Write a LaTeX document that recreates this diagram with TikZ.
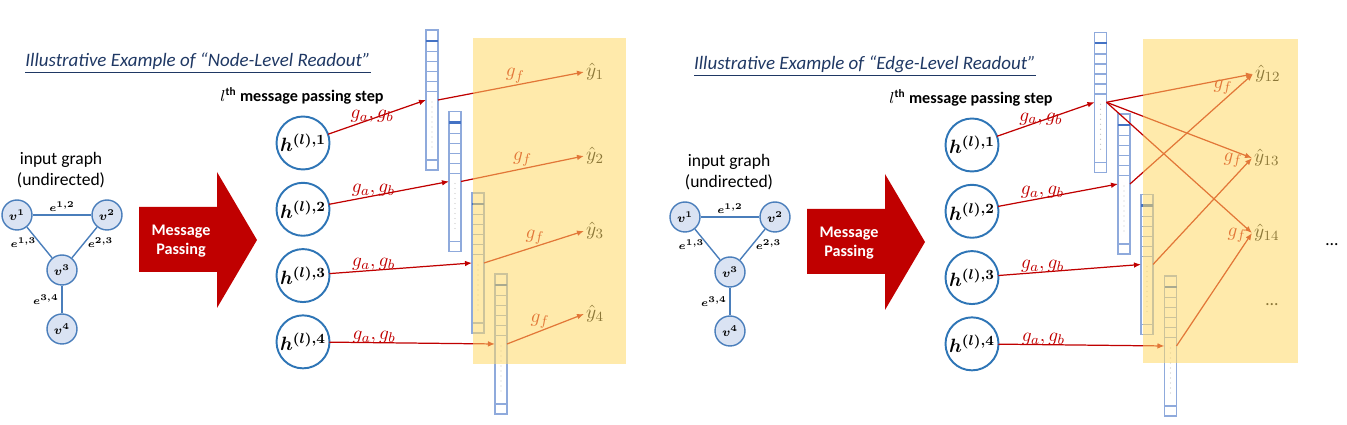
\documentclass[tikz,border=0pt]{standalone}
\usepackage{amsmath}
\usepackage{amssymb}
\usepackage[no-math]{fontspec}
\usepackage{tikz}
\usepackage{xcolor}
\newfontfamily\calibri{Carlito}
\usetikzlibrary{arrows.meta,positioning,calc}

\definecolor{titleblue}{HTML}{1F3864}
\definecolor{gfill}{HTML}{DAE3F3}
\definecolor{gedgeblue}{HTML}{4A7EBB}
\definecolor{hblue}{HTML}{2E75B6}
\definecolor{vecblue}{HTML}{8FAADC}
\definecolor{vecdark}{HTML}{4472C4}
\definecolor{mpred}{HTML}{C00000}
\definecolor{readyellow}{HTML}{FFD966}

% one hidden-state vector, named #1, top left corner at (#2,#3)
\newcommand{\featvec}[3]{%
  \node[vecbox, anchor=north west] (#1) at (#2,#3) {};
  \draw[vecdark, line width=1.3pt] ($(#1.north west)+(0,11)$) -- ($(#1.north east)+(0,11)$);
  \foreach \d in {21.7,31.7,41.7,51.7,61.7,130}
    \draw[vecline] ($(#1.north west)+(0,\d)$) -- ($(#1.north east)+(0,\d)$);
  \foreach \d in {0,...,9}
    \fill[gray!45] ($(#1.north)+(0,72+5*\d)$) circle (0.4pt);
}

% input graph and the message passing arrow, v1 at (#2,#3)
\newcommand{\inputgraph}[3]{%
  \begin{scope}[shift={(#2,#3)}]
    \node[txt] (#1in) at (44,-45) {input graph\\(undirected)};
    \node[gnode] (#1v1) at (0,0) {$\boldsymbol{v^1}$};
    \node[gnode] (#1v2) at (90,0) {$\boldsymbol{v^2}$};
    \node[gnode] (#1v3) at (45,55) {$\boldsymbol{v^3}$};
    \node[gnode] (#1v4) at (45,114) {$\boldsymbol{v^4}$};
    \draw[gedge] (#1v1) -- node[elab, above] {$\boldsymbol{e^{1,2}}$} (#1v2);
    \draw[gedge] (#1v1) -- node[elab, left] {$\boldsymbol{e^{1,3}}$} (#1v3);
    \draw[gedge] (#1v2) -- node[elab, right] {$\boldsymbol{e^{2,3}}$} (#1v3);
    \draw[gedge] (#1v3) -- node[elab, left] {$\boldsymbol{e^{3,4}}$} (#1v4);
    \fill[mpred] (122,-8) -- (200,-8) -- (200,-43) -- (240,25) -- (200,93) -- (200,57) -- (122,57) -- cycle;
    \node[msgtxt] (#1mp) at (164,26) {Message\\Passing};
  \end{scope}
}

\begin{document}
\begin{tikzpicture}[
  x=0.02cm, y=-0.02cm,
  node distance=0.266cm,
  gnode/.style={circle, draw=gedgeblue, fill=gfill, line width=0.8pt, minimum size=0.6cm, inner sep=0pt, font=\fontsize{7}{8}\selectfont},
  gedge/.style={draw=gedgeblue, line width=0.8pt},
  elab/.style={font=\fontsize{6}{7}\selectfont, inner sep=1.5pt},
  txt/.style={font=\calibri\fontsize{10}{12}\selectfont, align=center, inner sep=0pt},
  msgtxt/.style={font=\calibri\bfseries\fontsize{9.2}{11}\selectfont, text=white, align=center, inner sep=0pt},
  headline/.style={font=\calibri\itshape\fontsize{10.8}{13}\selectfont, text=titleblue, inner sep=0pt},
  steplab/.style={font=\calibri\bfseries\fontsize{9.2}{11}\selectfont, inner sep=0pt},
  hnode/.style={circle, draw=hblue, line width=1.1pt, fill=white, minimum size=1.06cm, inner sep=0pt, outer sep=0pt, font=\fontsize{11}{13}\selectfont},
  vecbox/.style={draw=vecblue, line width=0.8pt, minimum width=0.24cm, minimum height=2.8cm, inner sep=0pt, outer sep=0pt},
  vecline/.style={draw=vecblue, line width=0.6pt},
  msg/.style={-{Latex[length=4pt,width=3.2pt]}, draw=mpred, line width=0.7pt},
  glab/.style={text=mpred, font=\fontsize{11}{13}\selectfont, inner sep=1pt},
  ylab/.style={font=\fontsize{11}{13}\selectfont, inner sep=1pt, anchor=west},
  readout/.style={fill=readyellow, fill opacity=0.55}
]
  \useasboundingbox (0,0) rectangle (1347,425);

  % node-level readout
  \node[headline] (ttlL) at (198,63) {\underline{Illustrative Example of “Node-Level Readout”}};
  \inputgraph{l}{17}{215}
  \node[steplab] (stepL) at (302,96) {$l^{\text{th}}$ message passing step};
  \node[hnode] (lh1) at (303,143) {$\boldsymbol{h^{(l),1}}$};
  \node[hnode, below=of lh1] (lh2) {$\boldsymbol{h^{(l),2}}$};
  \node[hnode, below=of lh2] (lh3) {$\boldsymbol{h^{(l),3}}$};
  \node[hnode, below=of lh3] (lh4) {$\boldsymbol{h^{(l),4}}$};
  \featvec{lvec1}{426}{30}
  \featvec{lvec2}{449}{111.5}
  \featvec{lvec3}{472}{193}
  \featvec{lvec4}{495}{274}
  \node[ylab] (ly1) at (584,72) {$\hat{y}_1$};
  \node[ylab] (ly2) at (584,156) {$\hat{y}_2$};
  \node[ylab] (ly3) at (584,231) {$\hat{y}_3$};
  \node[ylab] (ly4) at (584,314) {$\hat{y}_4$};
  \draw[msg] (lh1) -- node[glab, above=-3.5pt, pos=0.45] {$g_a, g_b$} (lvec1.west);
  \draw[msg] (lh2) -- node[glab, above=-1.5pt, pos=0.37] {$g_a, g_b$} (lvec2.west);
  \draw[msg] (lh3) -- node[glab, above=-1.5pt, pos=0.31] {$g_a, g_b$} (lvec3.west);
  \draw[msg] (lh4) -- node[glab, above=-1.5pt, pos=0.27] {$g_a, g_b$} (lvec4.west);
  \draw[msg] (lvec1.east) -- node[glab, above, pos=0.53] {$g_f$} (ly1.west);
  \draw[msg] (lvec2.east) -- node[glab, above, pos=0.5] {$g_f$} (ly2.west);
  \draw[msg] (lvec3.east) -- node[glab, above, pos=0.51] {$g_f$} (ly3.west);
  \draw[msg] (lvec4.east) -- node[glab, above, pos=0.43] {$g_f$} (ly4.west);
  \fill[readout] (473,38) rectangle (626,364);

  % edge-level readout
  \node[headline] (ttlR) at (865,66) {\underline{Illustrative Example of “Edge-Level Readout”}};
  \inputgraph{r}{685}{217}
  \node[steplab] (stepR) at (971,98) {$l^{\text{th}}$ message passing step};
  \node[hnode] (rh1) at (972,145) {$\boldsymbol{h^{(l),1}}$};
  \node[hnode, below=of rh1] (rh2) {$\boldsymbol{h^{(l),2}}$};
  \node[hnode, below=of rh2] (rh3) {$\boldsymbol{h^{(l),3}}$};
  \node[hnode, below=of rh3] (rh4) {$\boldsymbol{h^{(l),4}}$};
  \featvec{rvec1}{1094.5}{32.3}
  \featvec{rvec2}{1118}{114}
  \featvec{rvec3}{1141}{194.5}
  \featvec{rvec4}{1164.5}{276}
  \node[ylab] (ry12) at (1253,74) {$\hat{y}_{12}$};
  \node[ylab] (ry13) at (1252,158) {$\hat{y}_{13}$};
  \node[ylab] (ry14) at (1252,233) {$\hat{y}_{14}$};
  \node[txt] (rdots) at (1272,305) {\ldots};
  \draw[msg] (rh1) -- node[glab, above=-3.5pt, pos=0.45] {$g_a, g_b$} (rvec1.west);
  \draw[msg] (rh2) -- node[glab, above=-1.5pt, pos=0.37] {$g_a, g_b$} (rvec2.west);
  \draw[msg] (rh3) -- node[glab, above=-1.5pt, pos=0.31] {$g_a, g_b$} (rvec3.west);
  \draw[msg] (rh4) -- node[glab, above=-1.5pt, pos=0.27] {$g_a, g_b$} (rvec4.west);
  \draw[msg] (rvec1.east) -- (ry12.west);
  \draw[msg] (rvec1.east) -- (ry13.west);
  \draw[msg] (rvec1.east) -- (ry14.west);
  \draw[msg] (rvec2.east) -- (ry12.west);
  \draw[msg] (rvec3.east) -- (ry13.west);
  \draw[msg] (rvec4.east) -- (ry14.west);
  \node[glab] (rgf12) at (1223,87) {$g_f$};
  \node[glab] (rgf13) at (1233,160) {$g_f$};
  \node[glab] (rgf14) at (1237,235) {$g_f$};
  \fill[readout] (1143,39) rectangle (1298,363);
  \node[txt] (rmore) at (1332,245) {\ldots};
\end{tikzpicture}
\end{document}
